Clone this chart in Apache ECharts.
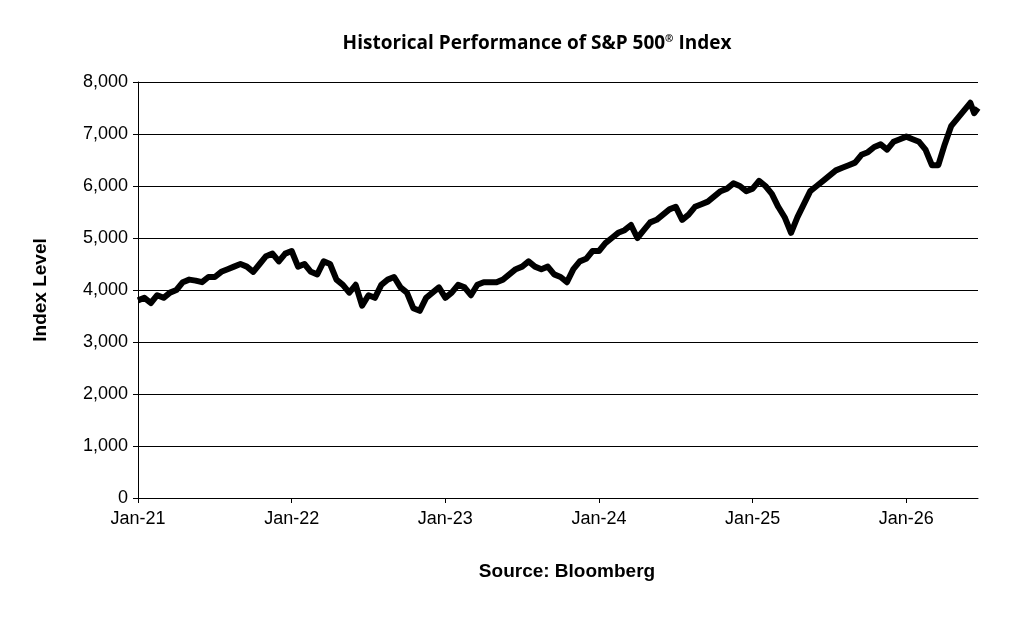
<!DOCTYPE html><html><head><meta charset="utf-8"><script src="https://cdn.jsdelivr.net/npm/echarts@6/dist/echarts.min.js"></script></head><body style="margin:0;background:#fff"><div id="c" style="width:1024px;height:619px"></div><script>
const months=[0,0.5,1,1.5,2,2.5,3,3.5,4,4.5,5,5.5,6,6.5,7,7.5,8,8.5,9,9.5,10,10.5,11,11.5,12,12.5,13,13.5,14,14.5,15,15.5,16,16.5,17,17.5,18,18.5,19,19.5,20,20.5,21,21.5,22,22.5,23,23.5,24,24.5,25,25.5,26,26.5,27,27.5,28,28.5,29,29.5,30,30.5,31,31.5,32,32.5,33,33.5,34,34.5,35,35.5,36,36.5,37,37.5,38,38.5,39,39.5,40,40.5,41,41.5,42,42.5,43,43.5,44,44.5,45,45.5,46,46.5,47,47.5,48,48.5,49,49.5,50,50.5,51,51.5,52,52.5,53,53.5,54,54.5,55,55.5,56,56.5,57,57.5,58,58.5,59,59.5,60,60.5,61,61.5,62,62.5,63,63.5,64,64.5,65,65.3,65.6];
const values=[3800,3850,3750,3900,3850,3950,4000,4150,4200,4180,4150,4250,4250,4350,4400,4450,4500,4450,4350,4500,4650,4700,4550,4700,4750,4450,4500,4350,4300,4550,4500,4200,4100,3950,4100,3700,3900,3850,4100,4200,4250,4050,3950,3650,3600,3850,3950,4050,3850,3950,4100,4050,3900,4100,4150,4150,4150,4200,4300,4400,4450,4550,4450,4400,4450,4300,4250,4150,4400,4550,4600,4750,4750,4900,5000,5100,5150,5250,5000,5150,5300,5350,5450,5550,5600,5350,5450,5600,5650,5700,5800,5900,5950,6050,6000,5900,5950,6100,6000,5850,5600,5400,5100,5400,5650,5900,6000,6100,6200,6300,6350,6400,6450,6600,6650,6750,6800,6700,6850,6900,6950,6900,6850,6700,6400,6400,6800,7150,7300,7450,7600,7400,7500];
const yearLabels={0:'Jan-21',12:'Jan-22',24:'Jan-23',36:'Jan-24',48:'Jan-25',60:'Jan-26'};
const ch=echarts.init(document.getElementById('c'));
const F='Liberation Sans';
ch.setOption({animation:false,
title:{text:'Historical Performance of S&P 500{s|®} Index',left:532,top:29,textAlign:'center',textStyle:{fontFamily:'Open Sans',fontWeight:'bold',fontSize:19,color:'#000',rich:{s:{fontSize:10,verticalAlign:'top',fontWeight:'bold',fontFamily:'Open Sans',padding:[0,0,8,0]}}}},
grid:{left:138,right:46,top:82,bottom:121},
xAxis:{type:'value',min:0,max:65.6,interval:12,name:'Source: Bloomberg',nameLocation:'middle',nameGap:64,nameTextStyle:{fontFamily:F,fontWeight:'bold',fontSize:19,color:'#000',padding:[0,0,0,18]},
axisLine:{lineStyle:{color:'#000'}},axisTick:{show:true,length:5,lineStyle:{color:'#000'}},splitLine:{show:false},
axisLabel:{fontFamily:F,fontSize:18,color:'#000',margin:12,formatter:v=>yearLabels[v]||'',showMaxLabel:false}},
yAxis:{type:'value',min:0,max:8000,interval:1000,name:'Index Level',nameLocation:'middle',nameGap:88,nameRotate:90,nameTextStyle:{fontFamily:F,fontWeight:'bold',fontSize:19,color:'#000'},
axisLine:{show:true,lineStyle:{color:'#000'}},axisTick:{show:true,length:5,lineStyle:{color:'#000'}},splitLine:{lineStyle:{color:'#000',width:1}},
axisLabel:{fontFamily:F,fontSize:18,color:'#000',margin:10,formatter:v=>v.toLocaleString('en-US')}},
series:[{type:'line',data:months.map((m,i)=>[m,values[i]]),showSymbol:false,lineStyle:{color:'#000',width:6,join:'round'},itemStyle:{color:'#000'}}]});
</script></body></html>
